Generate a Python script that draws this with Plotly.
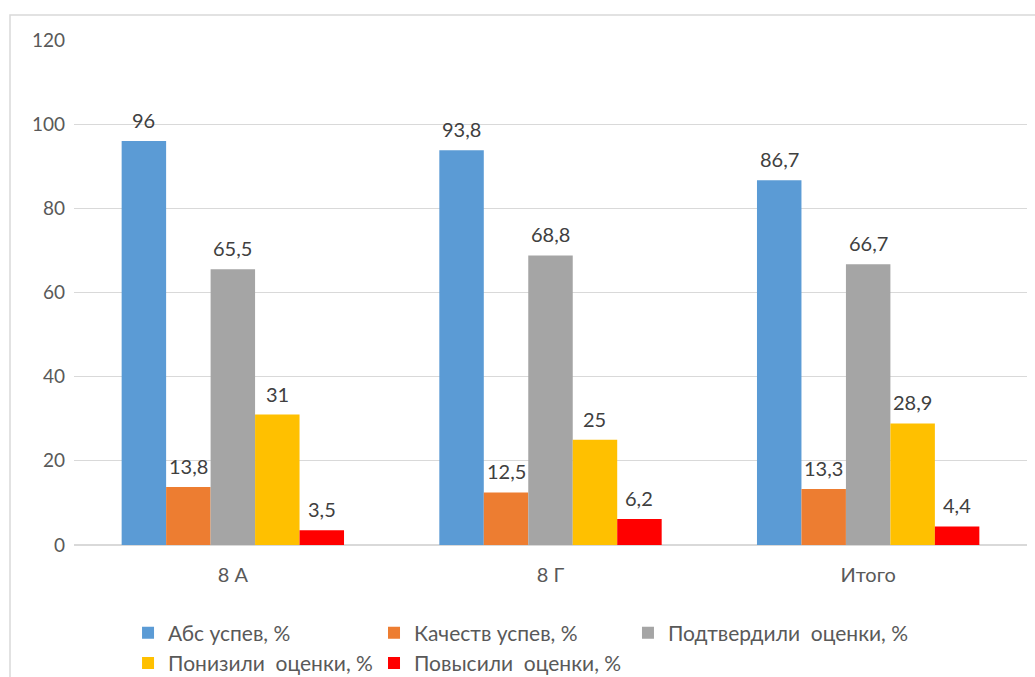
import plotly.graph_objects as go

categories = ["8 А", "8 Г", "Итого"]
series_names = ["Абс успев, %", "Качеств успев, %", "Подтвердили\u00a0 оценки, %",
                "Понизили\u00a0 оценки, %", "Повысили\u00a0 оценки, %"]
abs_usp = [96, 93.8, 86.7]
kach_usp = [13.8, 12.5, 13.3]
podtv = [65.5, 68.8, 66.7]
poniz = [31, 25, 28.9]
povys = [3.5, 6.2, 4.4]
colors = ["#5B9BD5", "#ED7D31", "#A5A5A5", "#FFC000", "#FF0000"]
y_ticks = [0, 20, 40, 60, 80, 100, 120]
# legend column for each series (Excel-style 3-column legend)
legend_cols = ["legend", "legend2", "legend3", "legend", "legend2"]

FONT = "Lato, Carlito, Calibri, sans-serif"
BARGAP = 0.3

def fmt(v):
    return ("%g" % v).replace(".", ",")

all_series = [abs_usp, kach_usp, podtv, poniz, povys]
n = len(all_series)
bw = (1 - BARGAP) / n

fig = go.Figure()
annotations = []
for k, (name, vals, col, lg) in enumerate(zip(series_names, all_series, colors, legend_cols)):
    fig.add_trace(go.Bar(
        name=name, x=categories, y=vals, marker_color=col, marker_line_width=0,
        legend=lg, legendgroup=name,
    ))
    for i, v in enumerate(vals):
        annotations.append(dict(
            x=i + (k - (n - 1) / 2) * bw, y=v, xref="x", yref="y",
            text=fmt(v), showarrow=False, yanchor="middle", yshift=21,
            font=dict(family=FONT, size=20, color="#404040"),
        ))

def leg(x):
    return dict(orientation="v", x=x, y=-0.134, xanchor="left", yanchor="top",
                font=dict(family=FONT, size=21, color="#595959"),
                bgcolor="rgba(0,0,0,0)", tracegroupgap=0,
                traceorder="grouped", itemclick=False, itemdoubleclick=False)

fig.update_layout(
    width=1035, height=677,
    margin=dict(l=74, r=8, t=40, b=132, autoexpand=False),
    paper_bgcolor="white", plot_bgcolor="white",
    barmode="group", bargap=BARGAP, bargroupgap=0,
    font=dict(family=FONT, size=19, color="#595959"),
    showlegend=True,
    legend=leg(0.0567), legend2=leg(0.3148), legend3=leg(0.5813),
    yaxis=dict(range=[0, 120], tickvals=y_ticks, showgrid=True, gridcolor="#D9D9D9",
               gridwidth=1.3, zeroline=True, zerolinecolor="#D9D9D9", zerolinewidth=1.5,
               showline=False, ticks="", ticklabelstandoff=8,
               tickfont=dict(family=FONT, size=19, color="#595959")),
    xaxis=dict(showgrid=False, showline=False, ticks="", ticklabelstandoff=16,
               tickfont=dict(family=FONT, size=20, color="#595959")),
    annotations=annotations,
    shapes=[dict(type="rect", xref="paper", yref="paper",
                 x0=(10 - 74) / 953, x1=1.2, y0=-0.6, y1=(545 - 15) / 505,
                 line=dict(color="#D9D9D9", width=1.5), fillcolor="rgba(0,0,0,0)", layer="below")],
)

fig.write_html("out.html", config={"displayModeBar": False},
               post_script="document.body.style.margin='0';document.body.style.overflow='hidden';")
